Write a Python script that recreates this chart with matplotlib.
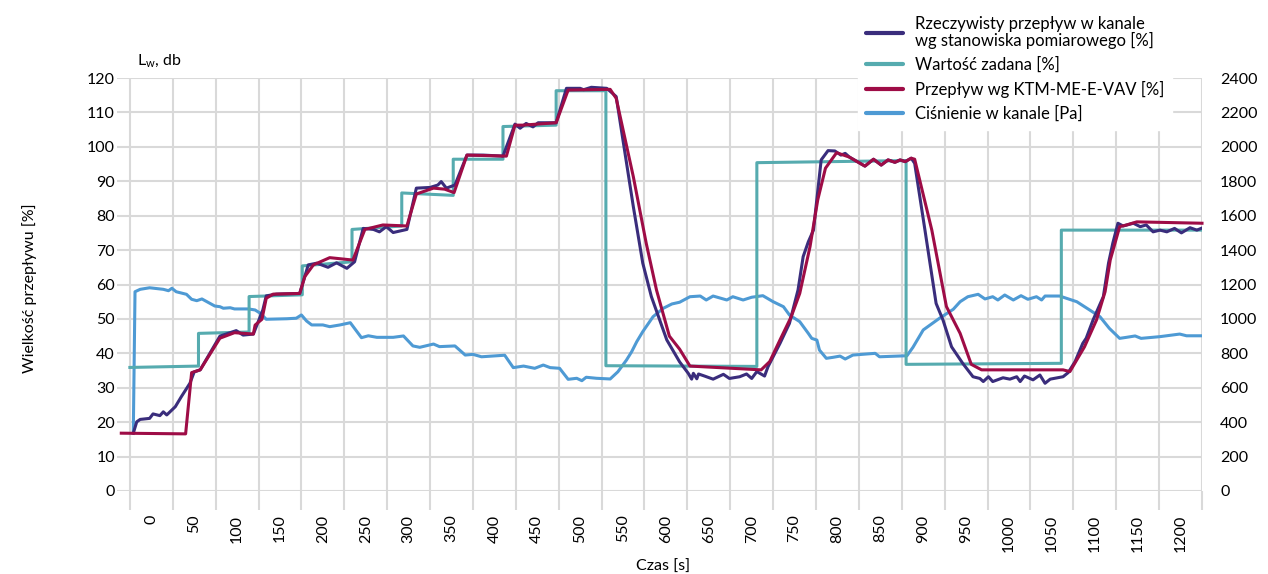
import numpy as np
import matplotlib
matplotlib.use("Agg")
import matplotlib.pyplot as plt
from matplotlib.lines import Line2D

plt.rcParams['font.family'] = ['Lato', 'DejaVu Sans']
plt.rcParams['font.size'] = 11

# Ciśnienie w kanale [Pa] (right axis)
pressure_t = [-21, -19, -13, -2, 14, 20, 24, 29, 41, 47, 53, 59, 74, 80, 84, 92, 97, 113, 121, 127,
              134, 158, 169, 175, 181, 187, 200, 208, 220, 232, 245, 253, 263, 282, 294, 305, 313, 329,
              336, 354, 366, 375, 385, 412, 422, 434, 447, 457, 465, 476, 486, 496, 502, 507, 519, 535,
              544, 554, 560, 566, 573, 585, 597, 607, 616, 628, 640, 647, 655, 671, 678, 690, 700, 713,
              725, 737, 744, 756, 766, 770, 776, 779, 787, 795, 803, 809, 818, 844, 849, 881, 888, 900,
              919, 935, 943, 952, 964, 972, 981, 987, 995, 1005, 1014, 1022, 1032, 1038, 1042, 1059,
              1079, 1094, 1106, 1117, 1129, 1137, 1147, 1154, 1176, 1199, 1207, 1225]
pressure_pa = [337, 1158, 1172, 1181, 1172, 1164, 1178, 1158, 1143, 1114, 1106, 1116, 1075, 1071, 1062,
               1065, 1058, 1058, 1052, 1033, 998, 1001, 1004, 1023, 988, 965, 965, 955, 965, 978, 891,
               902, 893, 893, 901, 843, 835, 854, 839, 843, 790, 794, 780, 789, 717, 726, 713, 732, 717,
               713, 649, 655, 641, 661, 655, 651, 693, 761, 809, 868, 926, 1013, 1062, 1087, 1097, 1129,
               1133, 1110, 1133, 1110, 1129, 1110, 1126, 1135, 1100, 1071, 1023, 984, 916, 887, 877, 819,
               771, 777, 784, 767, 790, 800, 780, 786, 835, 936, 1004, 1056, 1100, 1129, 1143, 1116,
               1129, 1110, 1139, 1110, 1135, 1114, 1129, 1110, 1133, 1133, 1100, 1052, 1013, 945, 887,
               893, 901, 887, 897, 912, 902, 902]

# Wartość zadana [%]
setpoint_t = [-25, 55, 55, 114, 114, 176, 176, 234, 234, 292, 292, 352, 352, 410, 410, 472, 472, 530,
              530, 706, 706, 880, 880, 1061, 1061, 1225]
setpoint_pct = [35.9, 36.3, 45.8, 46.2, 56.5, 57.0, 65.4, 66.6, 76.0, 77.0, 86.6, 85.9, 96.4, 96.4,
                105.9, 106.3, 116.3, 116.3, 36.4, 36.2, 95.4, 96.0, 36.8, 37.1, 75.8, 75.8]

# Przepływ wg KTM-ME-E-VAV [%]
ktm_t = [-35, 40, 47, 57, 80, 97, 119, 121, 129, 134, 142, 173, 179, 189, 208, 235, 249, 270, 298, 309,
         329, 342, 353, 368, 414, 424, 433, 472, 486, 535, 542, 562, 577, 589, 604, 616, 628, 711, 721,
         733, 746, 756, 768, 777, 786, 799, 814, 832, 842, 851, 859, 867, 873, 879, 886, 890, 910, 927,
         943, 956, 968, 1063, 1071, 1088, 1102, 1112, 1118, 1129, 1137, 1149, 1225]
ktm_pct = [16.8, 16.6, 34.4, 35.2, 44.4, 46.0, 45.6, 48.2, 49.9, 56.0, 57.2, 57.4, 62.3, 65.7, 67.8,
           67.1, 76.0, 77.3, 77.0, 86.3, 88.0, 87.7, 86.7, 97.6, 97.3, 106.3, 106.3, 107.0, 116.5,
           116.7, 114.1, 91.3, 72.0, 58.4, 45.0, 41.2, 36.3, 35.2, 37.6, 43.9, 50.6, 57.4, 71.0, 84.6,
           93.8, 98.3, 97.0, 94.4, 96.4, 94.7, 96.2, 95.5, 96.2, 95.7, 96.7, 96.4, 75.8, 53.6, 45.8,
           36.8, 35.2, 35.2, 34.7, 41.9, 49.7, 57.9, 67.1, 76.8, 77.3, 78.2, 77.8]

# Rzeczywisty przepływ w kanale wg stanowiska pomiarowego [%]
flow_t = [-21, -17, -13, -2, 2, 10, 14, 18, 28, 35, 45, 50, 57, 80, 99, 107, 119, 130, 134, 146, 173,
          183, 193, 206, 216, 228, 237, 247, 259, 266, 274, 282, 298, 309, 325, 334, 338, 344, 354, 368,
          387, 410, 424, 430, 437, 445, 451, 472, 484, 500, 504, 513, 531, 542, 562, 573, 583, 601, 616,
          626, 630, 632, 636, 638, 645, 655, 667, 674, 686, 694, 700, 706, 715, 719, 733, 744, 754, 760,
          766, 772, 781, 789, 797, 804, 809, 814, 832, 842, 851, 859, 867, 873, 879, 886, 890, 902, 915,
          923, 933, 946, 958, 966, 970, 976, 981, 993, 1001, 1009, 1013, 1018, 1028, 1036, 1042, 1048,
          1063, 1069, 1077, 1086, 1090, 1098, 1110, 1116, 1121, 1127, 1133, 1145, 1153, 1160, 1168,
          1176, 1184, 1193, 1201, 1211, 1219, 1225]
flow_pct = [16.8, 20.1, 20.8, 21.1, 22.4, 21.9, 23.0, 22.1, 24.5, 27.4, 31.3, 34.6, 35.2, 45.0, 46.6,
            45.3, 45.6, 52.6, 56.7, 57.2, 57.4, 65.7, 66.2, 65.0, 66.3, 64.7, 66.6, 76.3, 76.0, 75.3,
            76.8, 75.1, 76.0, 88.0, 88.2, 88.9, 89.9, 88.0, 88.9, 97.6, 97.6, 97.3, 106.6, 105.4, 106.8,
            105.8, 107.0, 107.0, 117.0, 117.0, 116.6, 117.3, 117.0, 114.6, 82.6, 66.2, 56.5, 43.9, 37.5,
            34.2, 32.5, 34.2, 32.6, 34.0, 33.4, 32.5, 33.9, 32.7, 33.2, 34.0, 32.7, 34.7, 33.4, 36.1,
            42.9, 48.7, 58.4, 68.1, 72.4, 75.8, 96.2, 98.9, 98.8, 97.6, 98.1, 97.0, 94.4, 96.4, 94.7,
            96.2, 95.5, 96.2, 95.7, 96.7, 95.2, 75.8, 54.5, 49.7, 41.9, 37.1, 33.2, 32.7, 31.8, 33.2,
            31.8, 32.9, 32.5, 33.2, 31.8, 33.4, 32.3, 33.7, 31.3, 32.5, 33.2, 34.4, 37.6, 42.9, 44.4,
            49.7, 56.5, 66.2, 72.0, 77.8, 77.0, 77.8, 76.8, 77.3, 75.3, 75.8, 75.3, 76.3, 75.0, 76.5,
            75.8, 76.4]

time_labels = np.arange(0, 1201, 50)
grid_x = np.arange(-25, 1226, 50)
flow_ticks = np.arange(0, 121, 10)
pressure_ticks = np.arange(0, 2401, 200)

labels = ['Rzeczywisty przepływ w kanale\nwg stanowiska pomiarowego [%]',
          'Wartość zadana [%]',
          'Przepływ wg KTM-ME-E-VAV [%]',
          'Ciśnienie w kanale [Pa]']

C_MEAS = '#3a2d7c'
C_SET = '#56abaf'
C_KTM = '#9e0c46'
C_PRESS = '#4e9ad4'
GRID = '#d9d9d9'
LW = 2.2

fig = plt.figure(figsize=(12.68, 5.74), dpi=100)
ax = fig.add_axes([117 / 1268, 1 - 491 / 574, (1202 - 117) / 1268, (491 - 78) / 574])
ax_p = ax.twinx()
ax_f = ax.twinx()
ax.set_zorder(0)
ax_p.set_zorder(1)
ax_f.set_zorder(2)
for a in (ax, ax_p, ax_f):
    for s in a.spines.values():
        s.set_visible(False)

ax.set_xlim(-40, 1225)
ax.set_ylim(0, 120)
ax_f.set_ylim(0, 120)
ax_p.set_ylim(0, 2400)

# grid + ticks
ax.set_xticks(grid_x)
ax.set_xticks(time_labels, minor=True)
ax.set_xticklabels(time_labels, minor=True, rotation=90)
ax.tick_params(axis='x', which='major', length=14, width=1.5, color=GRID, labelbottom=False)
ax.tick_params(axis='x', which='minor', length=0, pad=17, labelsize=11.5)
ax.grid(axis='x', which='major', color=GRID, lw=1.5)
ax.set_yticks(flow_ticks)
ax.tick_params(axis='y', length=0, pad=1.5, labelsize=11.5)
ax.grid(axis='y', color=GRID, lw=1.5)
ax_p.set_yticks(pressure_ticks)
ax_p.tick_params(axis='y', length=0, pad=13, labelsize=11.5)
ax_f.yaxis.set_visible(False)

ax_p.plot(pressure_t, pressure_pa, color=C_PRESS, lw=LW, solid_joinstyle='round')
ax_f.plot(setpoint_t, setpoint_pct, color=C_SET, lw=LW)
ax_f.plot(flow_t, flow_pct, color=C_MEAS, lw=LW, solid_joinstyle='round')
ax_f.plot(ktm_t, ktm_pct, color=C_KTM, lw=LW, solid_joinstyle='round', clip_on=False)

handles = [Line2D([], [], color=c, lw=3, solid_capstyle='round')
           for c in (C_MEAS, C_SET, C_KTM, C_PRESS)]
leg = fig.legend(handles, labels, loc='upper left', bbox_to_anchor=(858 / 1268, 1 - 8 / 574),
                 frameon=True, facecolor='white', edgecolor='white', framealpha=1, fancybox=False,
                 borderaxespad=0, borderpad=0.5, handlelength=2.2, handletextpad=0.7,
                 labelspacing=0.48, fontsize=12)
for t in leg.get_texts():
    t.set_linespacing(0.95)

fig.text(137 / 1268, 1 - 61 / 574, r'L$_\mathregular{w}$, db', ha='left', va='center', fontsize=11.5)
fig.text(30 / 1268, 1 - 288 / 574, 'Wielkość przepływu [%]', rotation=90, ha='center', va='center',
         fontsize=11.5)
fig.text(663 / 1268, 1 - 567 / 574, 'Czas [s]', ha='center', va='center', fontsize=11.5)

fig.savefig('out.png', dpi=100)
